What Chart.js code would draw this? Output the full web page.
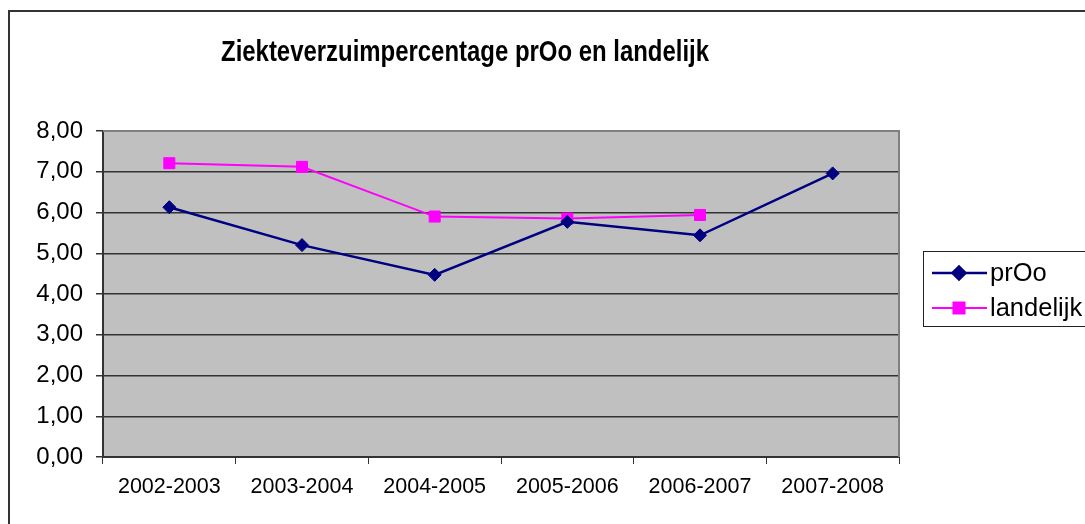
<!DOCTYPE html>
<html>
<head>
<meta charset="utf-8">
<title>Ziekteverzuimpercentage prOo en landelijk</title>
<script src="https://cdn.jsdelivr.net/npm/chart.js@4.4.1/dist/chart.umd.min.js"></script>
<style>
    html, body { margin: 0; padding: 0; background: #fff; overflow: hidden; }
    #wrap { width: 1085px; height: 524px; position: relative; }
</style>
</head>
<body>
<div id="wrap"><canvas id="myChart" width="1085" height="524"></canvas></div>
<script>
var chartTitle = 'Ziekteverzuimpercentage prOo en landelijk';
var schooljaren = ['2002-2003', '2003-2004', '2004-2005', '2005-2006', '2006-2007', '2007-2008'];
var prooWaarden = [6.13, 5.20, 4.47, 5.77, 5.44, 6.96];
var landelijkWaarden = [7.21, 7.12, 5.90, 5.85, 5.94, null];
var yTicks = [0, 1, 2, 3, 4, 5, 6, 7, 8];

var FONT = '"Liberation Sans", Arial, Helvetica, sans-serif';

// achtergrond, kader, titel en legenda
var excelLook = {
    id: 'excelLook',
    beforeDraw: function (chart) {
        var ctx = chart.ctx;
        var a = chart.chartArea;
        ctx.save();
        ctx.fillStyle = '#c0c0c0';
        ctx.fillRect(a.left, a.top, a.right - a.left, a.bottom - a.top);
        ctx.restore();
    },
    afterDatasetsDraw: function (chart) {
        var ctx = chart.ctx;
        var a = chart.chartArea;
        ctx.save();
        // plot rand boven/rechts
        ctx.strokeStyle = '#808080';
        ctx.lineWidth = 2;
        ctx.beginPath();
        ctx.moveTo(a.left, a.top);
        ctx.lineTo(a.right, a.top);
        ctx.lineTo(a.right, a.bottom);
        ctx.stroke();
        ctx.restore();
    },
    afterDraw: function (chart) {
        var ctx = chart.ctx;
        ctx.save();
        // buitenkader
        ctx.strokeStyle = '#333333';
        ctx.lineWidth = 2;
        ctx.beginPath();
        ctx.moveTo(9, 524);
        ctx.lineTo(9, 11);
        ctx.lineTo(1085, 11);
        ctx.stroke();

        // titel
        ctx.fillStyle = '#000';
        ctx.font = 'bold 29px ' + FONT;
        ctx.textAlign = 'center';
        ctx.textBaseline = 'alphabetic';
        ctx.translate(465, 61);
        ctx.scale(0.825, 1);
        ctx.fillText(chartTitle, 0, 0);
        ctx.restore();

        // legenda
        ctx.save();
        ctx.fillStyle = '#fff';
        ctx.fillRect(923, 251, 170, 75);
        ctx.strokeStyle = '#222';
        ctx.lineWidth = 1;
        ctx.strokeRect(923.5, 251.5, 170, 75);
        var rows = [273, 308];
        chart.data.datasets.forEach(function (ds, i) {
            var y = rows[i];
            ctx.strokeStyle = ds.borderColor;
            ctx.lineWidth = ds.borderWidth;
            ctx.beginPath();
            ctx.moveTo(932, y);
            ctx.lineTo(987, y);
            ctx.stroke();
            ctx.fillStyle = ds.pointBackgroundColor;
            ctx.strokeStyle = ds.pointBorderColor;
            Chart.helpers.drawPoint(ctx, {
                pointStyle: ds.pointStyle,
                radius: ds.pointRadius,
                rotation: 0,
                borderWidth: 1
            }, 959, y);
            ctx.fillStyle = '#000';
            ctx.font = '25.5px ' + FONT;
            ctx.textAlign = 'left';
            ctx.textBaseline = 'middle';
            ctx.fillText(ds.label, 990, y + 1);
        });
        ctx.restore();
    }
};

var ctx = document.getElementById('myChart').getContext('2d');
var myChart = new Chart(ctx, {
    type: 'line',
    data: {
        labels: schooljaren,
        datasets: [{
            label: 'prOo',
            data: prooWaarden,
            borderColor: '#000080',
            backgroundColor: '#000080',
            pointBackgroundColor: '#000080',
            pointBorderColor: '#000080',
            borderWidth: 2.5,
            pointStyle: 'rectRot',
            pointRadius: 6.5,
            pointBorderWidth: 1,
            tension: 0
        }, {
            label: 'landelijk',
            data: landelijkWaarden,
            borderColor: '#ff00ff',
            backgroundColor: '#ff00ff',
            pointBackgroundColor: '#ff00ff',
            pointBorderColor: '#ff00ff',
            borderWidth: 2,
            pointStyle: 'rect',
            pointRadius: 7.8,
            pointBorderWidth: 1,
            tension: 0
        }]
    },
    options: {
        responsive: false,
        animation: false,
        layout: {
            padding: { left: 0, top: 131, right: 186, bottom: 0 }
        },
        plugins: {
            legend: { display: false },
            title: { display: false },
            tooltip: { enabled: false }
        },
        scales: {
            x: {
                offset: true,
                afterFit: function (scale) { scale.height = 67; },
                grid: {
                    offset: true,
                    drawOnChartArea: false,
                    color: '#333',
                    tickLength: 7,
                    lineWidth: 1
                },
                border: { color: '#333', width: 2 },
                ticks: {
                    color: '#000',
                    padding: 10,
                    maxRotation: 0,
                    font: { family: FONT, size: 21.5 }
                }
            },
            y: {
                min: 0,
                max: 8,
                afterFit: function (scale) { scale.width = 103; },
                afterBuildTicks: function (scale) {
                    scale.ticks = yTicks.map(function (v) { return { value: v }; });
                },
                grid: {
                    color: '#333',
                    lineWidth: 1.5,
                    tickLength: 7
                },
                border: { color: '#333', width: 2 },
                ticks: {
                    color: '#000',
                    padding: 13,
                    font: { family: FONT, size: 24 },
                    callback: function (value) {
                        return value.toFixed(2).replace('.', ',');
                    }
                }
            }
        }
    },
    plugins: [excelLook]
});
</script>
</body>
</html>
